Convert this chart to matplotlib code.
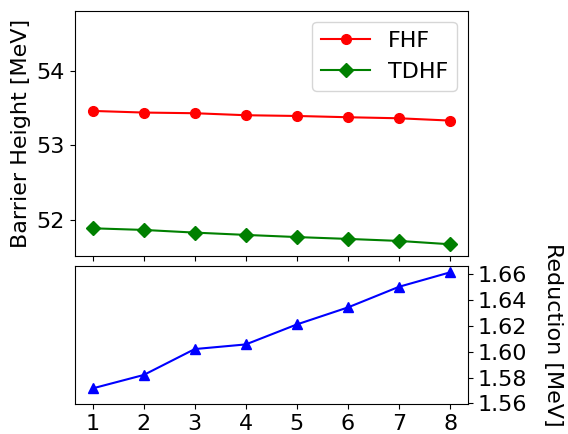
import matplotlib
matplotlib.use('Agg')
import matplotlib.pyplot as plt

# Data
n = [1, 2, 3, 4, 5, 6, 7, 8]
fhf = [53.462, 53.440, 53.431, 53.404, 53.394, 53.377, 53.363, 53.332]
tdhf = [51.883, 51.861, 51.825, 51.794, 51.765, 51.740, 51.713, 51.668]
reduction = [1.5716, 1.5820, 1.6021, 1.6057, 1.6212, 1.6344, 1.6504, 1.6616]

plt.rcParams['font.size'] = 16

fig = plt.figure(figsize=(5.68, 4.34), dpi=100)

# Top panel: barrier heights
ax1 = fig.add_axes([0.1315, 0.4101, 0.6925, 0.5652])
ax1.plot(n, fhf, 'o-', color='red', markersize=7, linewidth=1.5, label='FHF')
ax1.plot(n, tdhf, 'D-', color='green', markersize=7, linewidth=1.5, label='TDHF')
ax1.set_ylim(51.51, 54.81)
ax1.set_yticks([52, 53, 54])
ax1.set_xticks(n)
ax1.set_xticklabels([])
ax1.set_ylabel('Barrier Height [MeV]')
ax1.legend(loc='upper right', handlelength=2.2)

# Bottom panel: reduction
ax2 = fig.add_axes([0.1315, 0.0691, 0.6925, 0.318], sharex=ax1)
ax2.plot(n, reduction, '^-', color='blue', markersize=7, linewidth=1.5)
ax2.set_ylim(1.5595, 1.6665)
ax2.set_yticks([1.56, 1.58, 1.60, 1.62, 1.64, 1.66])
ax2.yaxis.tick_right()
ax2.yaxis.set_label_position('right')
ax2.set_ylabel('Reduction [MeV]', rotation=270, labelpad=26)
ax2.set_xticks(n)
ax2.set_xticklabels([str(i) for i in n])

fig.savefig('out.png', dpi=100)
